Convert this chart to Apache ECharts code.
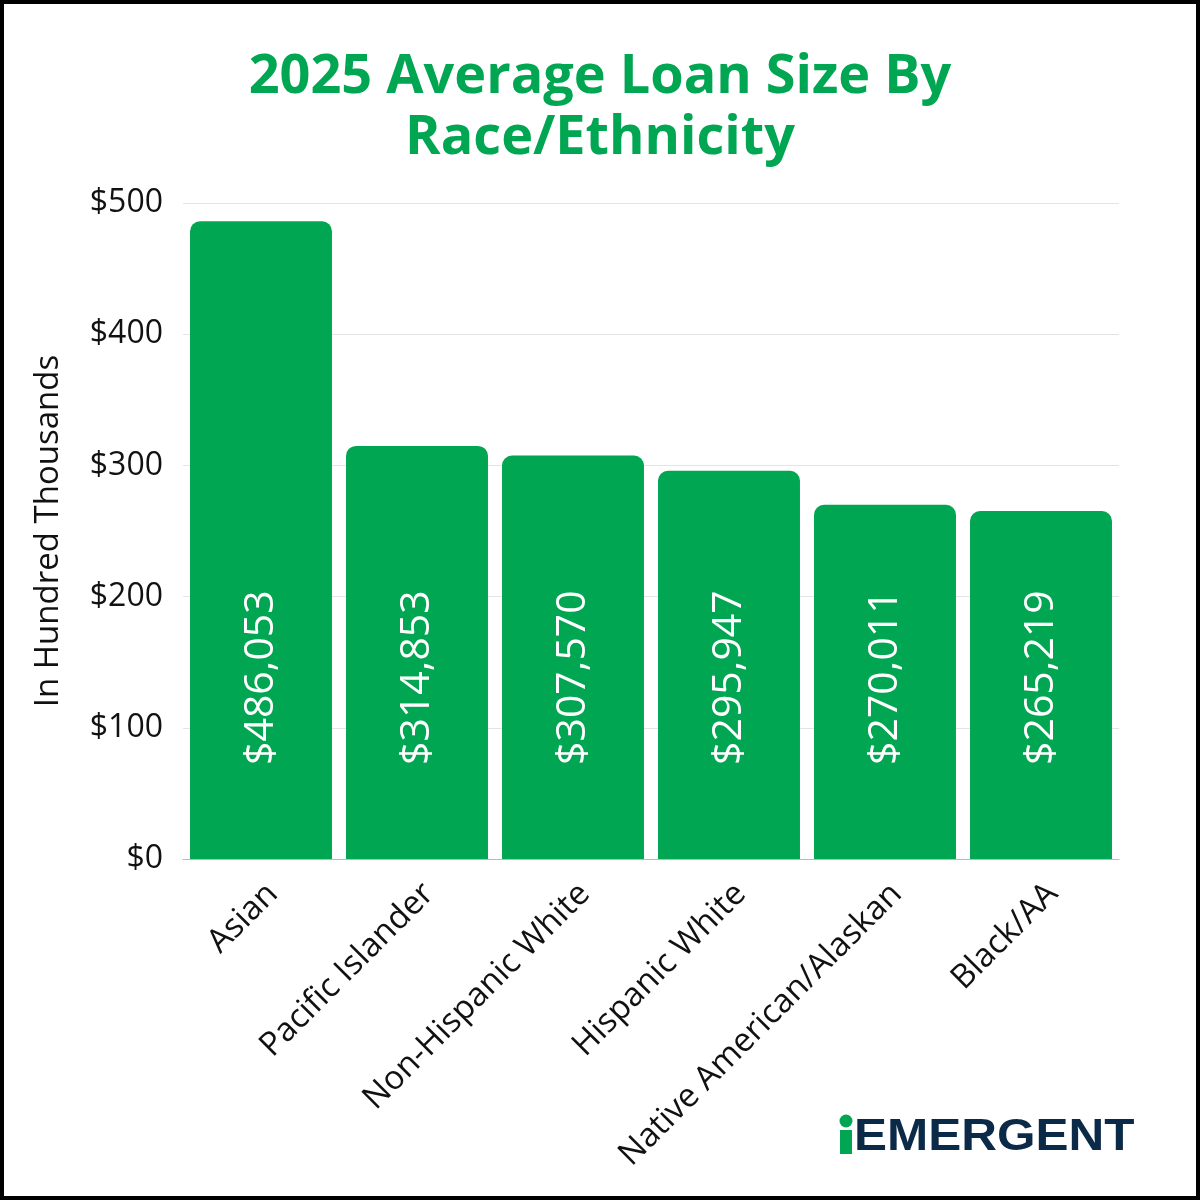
<!DOCTYPE html>
<html><head><meta charset="utf-8">
<script src="https://cdn.jsdelivr.net/npm/echarts@6/dist/echarts.min.js"></script>
<style>html,body{margin:0;padding:0;background:#fff}#c{width:1200px;height:1200px}</style>
</head><body><div id="c"></div>
<script>
const categories = ['Asian','Pacific Islander','Non-Hispanic White','Hispanic White','Native American/Alaskan','Black/AA'];
const values = [486053, 314853, 307570, 295947, 270011, 265219];
const yTicks = [0, 100, 200, 300, 400, 500];
const green = '#00A651';
const chart = echarts.init(document.getElementById('c'), null, {renderer:'canvas'});
chart.setOption({
  backgroundColor:'#fff',
  title:{text:'2025 Average Loan Size By\nRace/Ethnicity', left:'center', top:42,
    textStyle:{fontFamily:'Open Sans', fontWeight:'bold', fontSize:54, color:green, lineHeight:61}},
  grid:{left:183, right:81, top:203, bottom:341, containLabel:false},
  xAxis:{type:'category', data:categories,
    axisLine:{lineStyle:{color:'#bbb'}}, axisTick:{show:false},
    axisLabel:{rotate:45, interval:0, fontFamily:'Open Sans', fontSize:33, color:'#111', margin:18, verticalAlign:'top'}},
  yAxis:{type:'value', min:0, max:500, interval:100,
    name:'In Hundred Thousands', nameLocation:'middle', nameGap:118, nameRotate:90,
    nameTextStyle:{fontFamily:'Open Sans', fontSize:33, color:'#111'},
    axisLine:{show:false}, axisTick:{show:false},
    splitLine:{lineStyle:{color:'#e4e4e4', width:1}},
    axisLabel:{fontFamily:'Open Sans', fontSize:32, color:'#111', margin:20,
      formatter:v => yTicks.includes(v) ? '$'+v : ''}},
  series:[{type:'bar', data:values.map(v=>v/1000), barCategoryGap:'9%',
    itemStyle:{color:green, borderRadius:[10,10,0,0]},
    label:{show:true, position:'insideBottom', distance:94, rotate:90, align:'left', verticalAlign:'middle',
      fontFamily:'Open Sans', fontSize:41, color:'#fff',
      formatter:p => '$'+values[p.dataIndex].toLocaleString('en-US')}}],
  graphic:[
    {type:'rect', shape:{x:0, y:0, width:1200, height:1200}, style:{fill:'none', stroke:'#000', lineWidth:8}, z:100},
    {type:'circle', shape:{cx:846, cy:1121, r:6.5}, style:{fill:green}},
    {type:'rect', shape:{x:840, y:1130, width:12, height:24}, style:{fill:green}},
    {type:'text', x:854, y:1115, scaleX:1.1, style:{text:'EMERGENT', fontFamily:'Liberation Sans', fontWeight:900, fontSize:45, fill:'#0B2A48'}}
  ]
});
</script></body></html>
